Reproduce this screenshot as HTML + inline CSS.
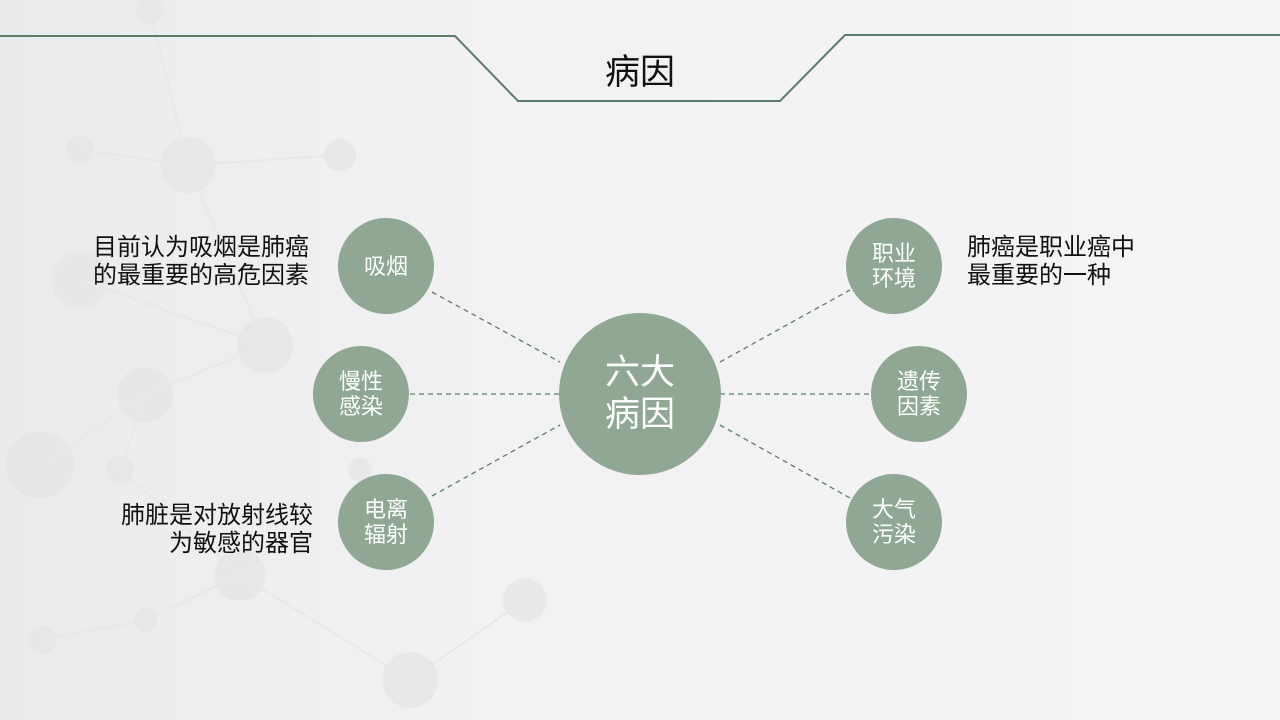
<!DOCTYPE html>
<html><head><meta charset="utf-8"><style>
body{margin:0;width:1280px;height:720px;overflow:hidden;background:linear-gradient(90deg,#ebebed 0%,#f2f2f4 40%,#f4f4f6 100%);font-family:"Liberation Sans","Noto Sans CJK SC",sans-serif;position:relative}
.t{position:absolute;font-size:24px;line-height:28px;color:#111}
.c{position:absolute;border-radius:50%;background:#8fa793;color:#fff;display:flex;align-items:center;justify-content:center;text-align:center;font-size:22px;line-height:25px}
</style></head><body>
<svg width="1280" height="720" style="position:absolute;left:0;top:0">
<g fill="#e6e6e9" opacity="0.8">
<circle cx="40" cy="465" r="34"/><circle cx="145" cy="395" r="28"/><circle cx="188" cy="165" r="28"/><circle cx="265" cy="345" r="28"/><circle cx="80" cy="150" r="14"/><circle cx="340" cy="155" r="16"/><circle cx="120" cy="470" r="14"/><circle cx="240" cy="575" r="26"/><circle cx="410" cy="680" r="28"/><circle cx="525" cy="600" r="22"/><circle cx="42" cy="640" r="14"/><circle cx="150" cy="10" r="14"/><circle cx="80" cy="280" r="28"/><circle cx="145" cy="620" r="12"/><circle cx="360" cy="470" r="12"/>
</g>
<g stroke="#e8e8eb" stroke-width="2" fill="none">
<path d="M40 465L145 395L265 345L188 165L80 150M145 395L120 470L240 575L410 680L525 600M188 165L340 155M80 280L265 345M42 640L145 620L240 575M150 10L188 165"/>
</g>
<path d="M0 36H455L518 101H780L845 35H1280" stroke="#5d7d68" stroke-width="2" fill="none"/>
<g stroke="#5d7d68" stroke-width="1.3" stroke-dasharray="5,4" fill="none">
<path d="M432 292L560 362M410 394H560M432 496L560 425M720 362L850 290M720 394H870M720 425L850 498"/>
</g>
</svg>
<div style="position:absolute;left:540px;top:44px;width:200px;text-align:center;font-size:35px;color:#111">病因</div>
<div class="c" style="left:559px;top:313px;width:162px;height:162px;font-size:35px;line-height:42px">六大<br>病因</div>
<div class="c" style="left:338px;top:218px;width:96px;height:96px">吸烟</div>
<div class="c" style="left:313px;top:346px;width:96px;height:96px">慢性<br>感染</div>
<div class="c" style="left:338px;top:474px;width:96px;height:96px">电离<br>辐射</div>
<div class="c" style="left:846px;top:218px;width:96px;height:96px">职业<br>环境</div>
<div class="c" style="left:871px;top:346px;width:96px;height:96px">遗传<br>因素</div>
<div class="c" style="left:846px;top:474px;width:96px;height:96px">大气<br>污染</div>
<div class="t" style="right:971px;top:234px;text-align:right">目前认为吸烟是肺癌<br>的最重要的高危因素</div>
<div class="t" style="right:967px;top:502px;text-align:right">肺脏是对放射线较<br>为敏感的器官</div>
<div class="t" style="left:967px;top:234px">肺癌是职业癌中<br>最重要的一种</div>
</body></html>
